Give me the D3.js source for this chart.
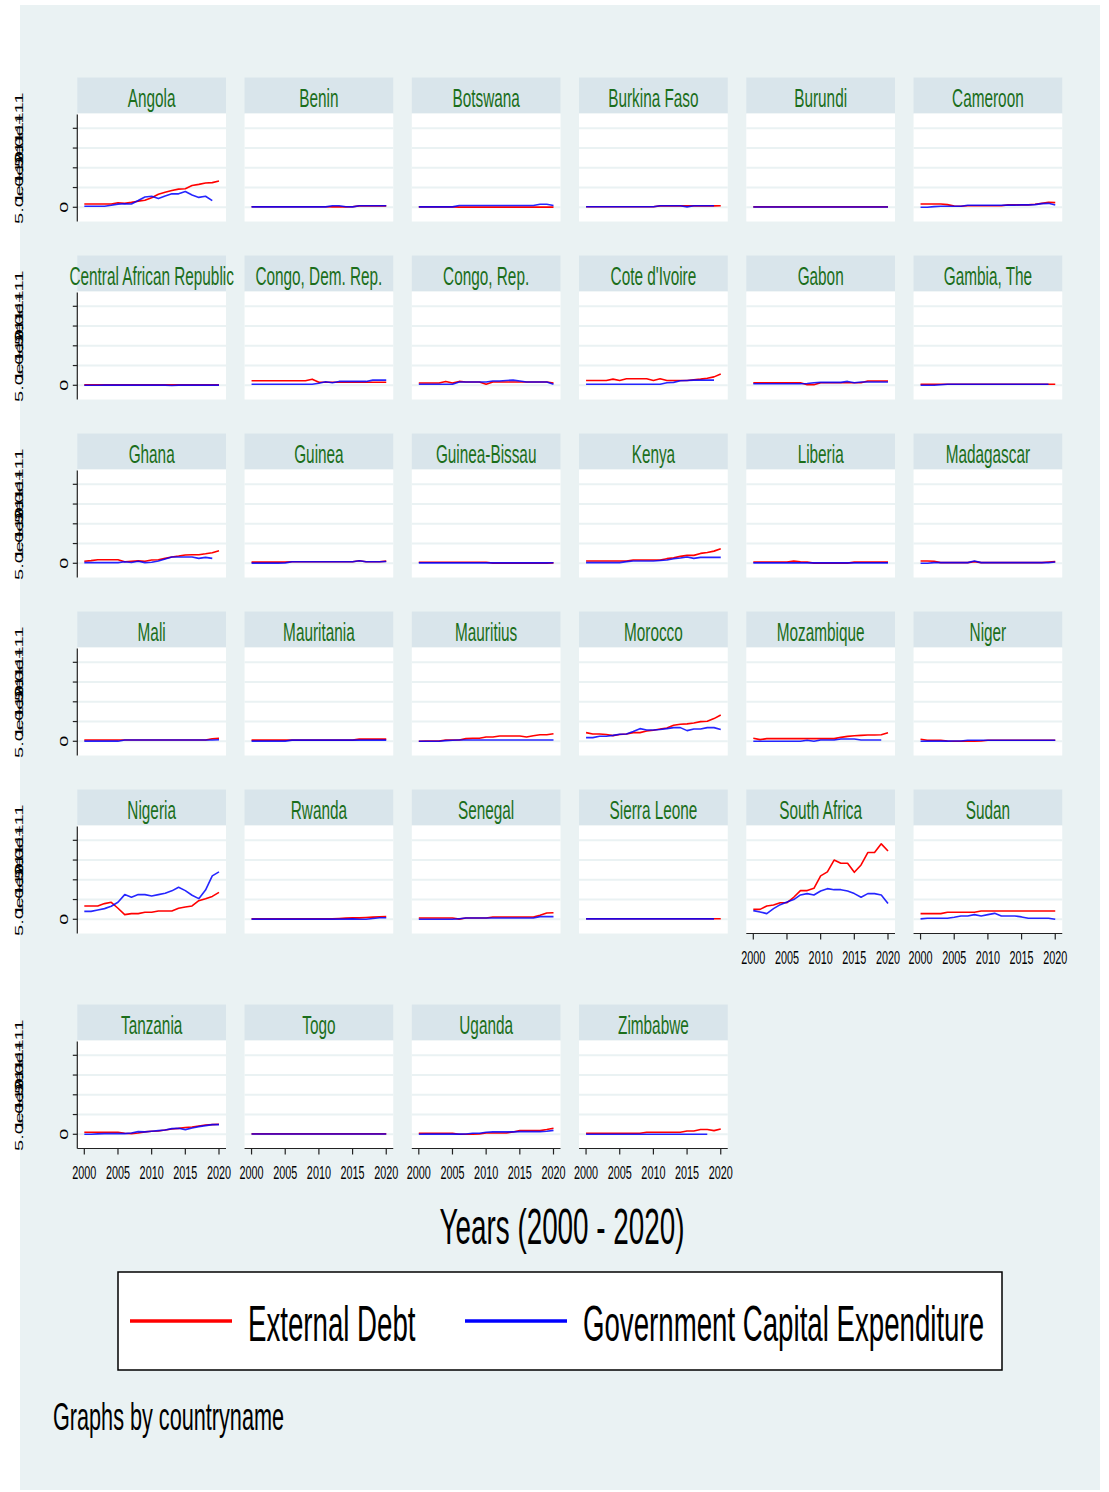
<!DOCTYPE html>
<html>
<head>
<meta charset="utf-8">
<script src="https://cdn.jsdelivr.net/npm/d3@7/dist/d3.min.js"></script>
<style>
  html, body { margin: 0; padding: 0; background: #ffffff; }
  svg { display: block; }
  text { font-family: "Liberation Sans", Arial, sans-serif; }
</style>
</head>
<body>
<svg id="chart" width="1109" height="1492"></svg>
<script>
// ---------------- DATA (values in US$ billions) ----------------
const years = [2000,2001,2002,2003,2004,2005,2006,2007,2008,2009,2010,2011,2012,2013,2014,2015,2016,2017,2018,2019,2020];

const countries = [
  "Angola","Benin","Botswana","Burkina Faso","Burundi","Cameroon",
  "Central African Republic","Congo, Dem. Rep.","Congo, Rep.","Cote d'Ivoire","Gabon","Gambia, The",
  "Ghana","Guinea","Guinea-Bissau","Kenya","Liberia","Madagascar",
  "Mali","Mauritania","Mauritius","Morocco","Mozambique","Niger",
  "Nigeria","Rwanda","Senegal","Sierra Leone","South Africa","Sudan",
  "Tanzania","Togo","Uganda","Zimbabwe"
];

// External Debt, one row per country (same order as countries)
const externalDebt = [
  [8.5,8.5,8.5,8.5,8.5,11.5,10,12.5,15.5,18,24,33,38,42.5,46,47,55,58,61.5,62.5,66.5],        // Angola
  [1.5,1.5,1.5,1.5,1.5,1.5,1.5,1.5,1.5,1.5,1.5,1.5,1,1.5,1,1.5,3.5,3.5,3.5,3.5,3.5],          // Benin
  [1,1,1,1,1,1,0.5,0.5,0.5,0.5,0.5,0.5,0.5,0.5,0.5,0.5,0.5,0.5,0.5,0.5,0.5],                  // Botswana
  [1.5,1.5,1.5,1.5,1.5,1.5,1.5,1.5,1.5,1.5,1.5,3.5,3.5,3.5,3.5,4,3.5,3.5,3.5,3.5,4],          // Burkina Faso
  [1,1,1,1,1,1,1,1,1,1,1,1,1,1,1,1,1,1,1,1,1],                                                 // Burundi
  [8.5,8.5,8.5,8.5,6.7,3.4,2.5,4,4,4,4,4,4,6,6,6,6,7.6,10,12.7,11.8],                          // Cameroon
  [1,1,1,1,1,1,1,1,1,1,1,1,1,1,1,1,1,1,1,1,1],                                                 // CAR
  [11.5,11.5,11.5,11.5,11.5,11.5,11.5,11.5,11.5,15.5,7.5,7.5,7.5,7.5,7.5,7.5,7.5,7.5,7.5,7.5,7.5], // Congo DR
  [5.7,5.7,5.7,5.7,9.8,5.7,9.8,8.2,8.2,8.2,2.5,8.2,8.2,8.2,8.2,8.2,8.2,8.2,8.2,8.2,5.7],       // Congo Rep
  [12.3,12.3,12.3,12.3,15.6,12.3,16.4,16.4,16.4,16.4,12.3,16.4,12.3,12.3,12.3,12.3,14,15.6,18,21.3,28.7], // Cote d'Ivoire
  [6.6,6.6,6.6,6.6,6.6,6.6,6.6,6.6,1.6,1.6,6.6,6.6,6.6,6.6,6.6,6.6,6.6,10.7,10.7,10.7,10.7],  // Gabon
  [2.5,2.5,2.5,2.5,2.5,2.5,2.5,2.5,2.5,2.5,2.5,2.5,2.5,2.5,2.5,2.5,2.5,2.5,2.5,2.5,2.5],      // Gambia
  [5,6.7,9,9,9,9,4,5,6,5,8.3,9,12.5,16,18.3,21,21.7,21.7,24,26.7,31.7],                        // Ghana
  [3,3,3,3,3,3,4,4,4,4,4,4,4,4,4,4,6.5,4,4,4,5.5],                                             // Guinea
  [2.5,2.5,2.5,2.5,2.5,2.5,2.5,2.5,2.5,2.5,2.5,0.3,0.3,0.3,0.3,0.3,0.3,0.3,0.3,0.3,1],         // Guinea-Bissau
  [5.8,5.8,5.8,5.8,5.8,5.8,5.8,8.3,8.3,8.3,8.3,8.3,11.7,14,17.5,20,20,25,27.5,30.8,36.7],     // Kenya
  [3.3,3.3,3.3,3.3,3.3,3.3,5.5,3.5,3,0.5,0.5,0.5,0.5,0.5,0.5,3,3,3,3,3,3],                     // Liberia
  [5.8,5.8,5,1.7,1.7,1.7,1.7,1.7,4.2,1.7,1.7,1.7,1.7,1.7,1.7,1.7,1.7,1.7,1.7,3.3,4.2],        // Madagascar
  [3.3,3.3,3.3,3.3,3.3,3.3,3.3,3.3,3.3,3.3,3.3,3.3,3.3,3.3,3.3,3.3,3.3,3.3,3.3,6.5,7.5],      // Mali
  [3,3,3,3,3,3,3,3,3,3,3,3,3,3,3,3,5.5,5.5,5.5,5.5,5.5],                                       // Mauritania
  [0,0.8,0.8,0.8,3.3,3.3,3.3,6.7,7.5,7.5,10.8,10.8,13.3,13.3,13.3,13.3,10.8,14,16.7,16.7,19.2], // Mauritius
  [22,18.6,18.6,17,14.3,17,18.6,22,22,26,28,31,33.8,40.5,43,44,46.4,49.8,50.6,57.4,66.7],      // Morocco
  [7.5,4.2,6.7,6.7,6.7,6.7,6.7,6.7,6.7,6.7,6.7,6.7,6.7,10,12.5,14.2,15,15.8,15.8,16.5,21.7],  // Mozambique
  [5,2.5,2.5,2.5,0.8,0,0,0,0,0.8,2.5,2.5,2.5,2.5,2.5,2.5,2.5,2.5,2.5,2.5,2.5],                 // Niger
  [33.8,33.8,33.8,39.7,43,28,11.8,14.3,14.3,17.7,17.7,21,21,21,28,31,33.8,47,52,58,68],        // Nigeria
  [1,1,1,1,1,1,1,1,1,1,1,1,1,2,3,3.5,3.5,4.5,5.5,6.5,7],                                       // Rwanda
  [3.3,3.3,3.3,3.3,3.3,3.3,0.5,3.3,3.3,3.3,3.3,5.8,5.8,5.8,5.8,5.8,5.8,5.8,10,15.8,16.7],     // Senegal
  [1.5,1.5,1.5,1.5,1.5,1.5,1.5,1.5,1.5,1.5,1.5,1.5,1.5,1.5,1.5,1.5,1.5,1.5,1.5,1.5,1.5],      // Sierra Leone
  [25,25,33.8,36,42,42,55.7,72.6,72.6,78.5,110,120,150,142,142,119,137.6,169,169,191,173],     // South Africa
  [14.3,14.3,14.3,14.3,17.7,17.7,17.7,17.7,17.7,21,21,21,21,21,21,21,21,21,21,21,21],         // Sudan
  [5,5,5,5,5,5,2.5,1.7,3.4,6,7.6,8.4,11,13.5,15,17,18.6,21,23.6,24.5,25.3],                    // Tanzania
  [1,1,1,1,1,1,1,1,1,1,1,1,1,1,1,1,1,1,1,1,1],                                                 // Togo
  [2.5,2.5,2.5,2.5,2.5,2.5,0,0,0,0.8,3.4,3.4,3.4,3.4,6,9.3,9.3,9.3,9.3,12,15.3],               // Uganda
  [2.5,2.5,2.5,2.5,2.5,2.5,2.5,2.5,2.5,5,5,5,5,5,5,8.5,8.5,12,12,9.3,13.5]                     // Zimbabwe
];

// Government Capital Expenditure, one row per country (null = no data)
const govCapitalExpenditure = [
  [2.5,2.5,2.5,2.5,5,8,9,8.5,17,26,28,22,28.5,34,34,40,31,25,28,17,null],                       // Angola
  [1,1,1,1,1,1,1,1,1,1,1,1,4,4,1.5,1,4,4,4,4,4],                                                // Benin
  [1,1,1,1,1,1,4.5,4.5,4.5,4.5,4.5,4.5,4.5,4.5,4.5,4.5,4.5,4.5,7.5,7.5,4.5],                    // Botswana
  [1.5,1.5,1.5,1.5,1.5,1.5,1.5,1.5,1.5,1.5,1.5,4,4,4,4,1,4,4,4,4,null],                         // Burkina Faso
  [0.8,0.8,0.8,0.8,0.8,0.8,0.8,0.8,0.8,0.8,0.8,0.8,0.8,0.8,0.8,0.8,0.8,0.8,0.8,0.8,0.8],       // Burundi
  [0,0,1.7,2.5,2.5,2.5,2.5,5,5,5,5,5,5,5.5,5.5,6,6,6.7,9.3,10,6],                               // Cameroon
  [0,0,0,0.5,0.5,0.5,0.5,0.5,0.5,0.5,0.5,0.5,0.5,-0.5,0.5,0.5,0.5,0.5,0.5,0.5,0.5],             // CAR
  [2.5,2.5,2.5,2.5,2.5,2.5,2.5,2.5,2.5,2.5,5,9,6.6,9.8,9.8,9.8,9.8,9.8,13,13,13],               // Congo DR
  [2.5,2.5,2.5,2.5,2.5,2.5,8.2,8.2,8.2,8.2,8.2,10.7,10.7,12.3,13,10.7,8.2,8.2,8.2,8.2,2.5],     // Congo Rep
  [2.5,2.5,2.5,2.5,2.5,2.5,2.5,2.5,2.5,2.5,2.5,2.5,6.6,7.4,11.5,12.3,13,13,13,13,null],         // Cote d'Ivoire
  [4,4,4,4,4,4,4,4,4.5,6.6,7.4,7.4,7.4,7.4,9.8,6.6,8.2,8.2,8.2,8.2,8.2],                        // Gabon
  [0,0,0,1.5,2.5,2.5,2.5,2.5,2.5,2.5,2.5,2.5,2.5,2.5,2.5,2.5,2.5,2.5,2.5,2.5,null],             // Gambia
  [1.7,1.7,1.7,1.7,1.7,1.7,4,2,5,1.7,2.5,5.8,10.8,16,16,16,16,12.5,15,12.5,null],               // Ghana
  [0.5,0.5,0.5,0.5,0.5,1,4,4,4,4,4,4,4,4,4,4,6.5,4,4,4,4.5],                                    // Guinea
  [1,1,1,1,1,1,1,1,1,1,1,1,1,1,1,1,1,1,1,1,1.5],                                                // Guinea-Bissau
  [1.7,1.7,1.7,1.7,1.7,1.7,4.2,5.8,5.8,5.8,5.8,7,8.3,11.7,13.3,15.8,12.5,15,15,15,15],          // Kenya
  [1,1,1,1,1,1,1,1,1,1,1,1,1,1,1,1,1,1,1,1,1],                                                  // Liberia
  [0,0,1.7,1.7,1.7,1.7,1.7,1.7,5.8,1.7,1.7,1.7,1.7,1.7,1.7,1.7,1.7,1.7,1.7,1.7,3.3],            // Madagascar
  [0.3,0.3,0.3,0.3,0.3,0.3,3.3,3.3,3.3,3.3,3.3,3.3,3.3,3.3,3.3,3.3,3.3,3.3,3.3,3.3,4],          // Mali
  [0.5,0.5,0.5,0.5,0.5,0.5,3,3,3,3,3,3,3,3,3,3,3,3,3,3,3],                                      // Mauritania
  [0,0,0,0,1.7,2.5,3.3,3.3,3.3,3.3,3.3,3.3,3.3,3.3,3.3,3.3,3.3,3.3,3.3,3.3,3.3],                // Mauritius
  [9.3,9.3,12.7,12.7,15,17.7,18.6,25,32,28.7,28.7,30,32,34.6,34.6,27,31,31,34.6,34.6,30],       // Morocco
  [0,0,0,0,0,0,0,0,2.5,0,3.3,3.3,3.3,5.8,5.8,5.8,3.3,3.3,3.3,3.3,null],                         // Mozambique
  [0,0.5,0.5,0.5,0.5,0.8,0.8,2.5,2.5,2.5,2.5,2.5,2.5,2.5,2.5,2.5,2.5,2.5,2.5,2.5,2.5],          // Niger
  [20,20,23.6,27,33,43,62.5,55.7,62.5,62.5,59,62.5,66,72,81,72.6,60.8,52.3,74,110,120],         // Nigeria
  [0.5,0.5,0.5,0.5,0.5,0.5,0.5,0.5,0.5,0.5,0.5,0.5,0.5,0.5,0.5,1,0,0,2,4,4],                    // Rwanda
  [0,0,0,0,0,0,1.5,3.3,3.3,3.3,3.3,3.3,3.3,3.3,3.3,3.3,3.3,3.3,6.7,6.7,6.7],                    // Senegal
  [1,1,1,1,1,1,1,1,1,1,1,1,1,1,1,1,1,1,1,1,null],                                               // Sierra Leone
  [22,18.6,14.3,27,37,44,50,61.6,65,61.6,71.7,77.6,75,75,71.7,65,55.7,65,65,61.6,39.7],         // South Africa
  [1,2.5,2.5,2.5,2.5,5,8.4,8.4,11.8,8.4,11.8,15,8.4,8.4,8.4,6,2.5,2.5,2.5,2.5,0],               // Sudan
  [0,0,1,1.7,1.7,1.7,1.7,3.4,6.7,6,7.6,9.3,11,14.3,15.2,11.8,16,19.4,22,24.5,24.5],             // Tanzania
  [0.8,0.8,0.8,0.8,0.8,0.8,0.8,0.8,0.8,0.8,0.8,0.8,0.8,0.8,0.8,0.8,0.8,0.8,0.8,0.8,0.8],       // Togo
  [0,0.5,0.5,0.5,0.5,0.5,0.5,0.8,2.5,2.5,5,6,6,6,6,6.8,6.8,6.8,6.8,7.6,10],                     // Uganda
  [0,0,0,0,0,0,0,0,0,0,0,0,0,0,0,0,0,0,0,null,null]                                             // Zimbabwe
];

const yTickValues = [0, 50, 100, 150, 200];
const yTickLabels = ["0", "5.0e+10", "1.0e+11", "1.5e+11", "2.0e+11"];
const xTickValues = [2000, 2005, 2010, 2015, 2020];
const seriesNames = ["External Debt", "Government Capital Expenditure"];
const seriesColors = ["#ff0000", "#0000ff"];

// ---------------- LAYOUT ----------------
const SQ = 0.57;               // horizontal text compression (matches reference rendering)
const nCols = 6;
const colX0 = 77.3, colStep = 167.25, panelW = 148.7;
const rowTop = [77.5, 255.5, 433.5, 611.5, 789.5, 1004.5];
const headerH = 36, plotH = 108;

const svg = d3.select("#chart");

svg.append("rect").attr("x", 20).attr("y", 5).attr("width", 1080).attr("height", 1485)
  .attr("fill", "#eaf2f3");

function sqText(parent, x, y, str, size, anchor, color, sq) {
  return parent.append("text")
    .attr("transform", `translate(${x},${y}) scale(${sq || SQ},1)`)
    .attr("text-anchor", anchor)
    .attr("font-size", size)
    .attr("fill", color || "#000")
    .text(str);
}

const x = d3.scaleLinear().domain([1998.96, 2021.04]).range([0, panelW]);
const y = d3.scaleLinear().domain([-36, 237.5]).range([plotH, 0]);

const nPerCol = [6, 6, 6, 6, 5, 5];  // panels in each column

countries.forEach((name, i) => {
  const col = i % nCols, row = Math.floor(i / nCols);
  const px = colX0 + col * colStep;
  const top = rowTop[row];
  const g = svg.append("g").attr("transform", `translate(${px},${top})`);

  // header
  g.append("rect").attr("x", 0).attr("y", 0).attr("width", panelW).attr("height", headerH)
    .attr("fill", "#d9e5eb");
  sqText(g, panelW / 2, 29, name, 26, "middle", "#1b6e1b", 0.59);

  // plot area
  const p = g.append("g").attr("transform", `translate(0,${headerH})`);
  p.append("rect").attr("width", panelW).attr("height", plotH).attr("fill", "#ffffff");

  p.selectAll("line.grid").data(yTickValues).enter().append("line")
    .attr("x1", 0).attr("x2", panelW)
    .attr("y1", d => y(d)).attr("y2", d => y(d))
    .attr("stroke", "#eaf2f3").attr("stroke-width", 2);

  const line = d3.line()
    .defined(d => d.v !== null)
    .x(d => x(d.year)).y(d => y(d.v));

  [externalDebt[i], govCapitalExpenditure[i]].forEach((vals, s) => {
    const pts = years.map((yr, k) => ({ year: yr, v: vals[k] }));
    p.append("path").datum(pts)
      .attr("d", line)
      .attr("fill", "none")
      .attr("stroke", seriesColors[s])
      .attr("stroke-opacity", s === 1 ? 0.85 : 1)
      .attr("stroke-width", 1.6)
      .attr("stroke-linejoin", "round");
  });

  // y axis on first column
  if (col === 0) {
    p.append("line").attr("x1", 0).attr("x2", 0).attr("y1", 1).attr("y2", plotH)
      .attr("stroke", "#222").attr("stroke-width", 1.2);
    yTickValues.forEach((t, k) => {
      p.append("line").attr("x1", -4.5).attr("x2", 0).attr("y1", y(t)).attr("y2", y(t))
        .attr("stroke", "#222").attr("stroke-width", 1.2);
      // Stata places the long (rotated) labels far from the axis, the short "0" close to it
      const off = t === 0 ? -9.3 : -54.3;
      p.append("text")
        .attr("transform", `translate(${off},${y(t)}) scale(${SQ},1) rotate(-90)`)
        .attr("text-anchor", "middle")
        .attr("font-size", 20)
        .attr("fill", "#000")
        .text(yTickLabels[k]);
    });
  }

  // x axis on last panel of each column
  if (row === nPerCol[col] - 1) {
    p.append("line").attr("x1", 0).attr("x2", panelW).attr("y1", plotH).attr("y2", plotH)
      .attr("stroke", "#222").attr("stroke-width", 1.2);
    xTickValues.forEach(t => {
      p.append("line").attr("x1", x(t)).attr("x2", x(t)).attr("y1", plotH).attr("y2", plotH + 6)
        .attr("stroke", "#222").attr("stroke-width", 1.2);
      sqText(p, x(t), plotH + 30, String(t), 19, "middle", "#000");
    });
  }
});

// axis title
sqText(svg, 562, 1244, "Years (2000 - 2020)", 50, "middle", "#000", 0.557);

// legend
const lg = svg.append("g");
lg.append("rect").attr("x", 118).attr("y", 1272).attr("width", 884).attr("height", 98)
  .attr("fill", "#ffffff").attr("stroke", "#000").attr("stroke-width", 1.5);
const legendItems = [
  { x1: 130, x2: 232, tx: 248 },
  { x1: 465, x2: 567, tx: 583 }
];
legendItems.forEach((it, s) => {
  lg.append("line").attr("x1", it.x1).attr("x2", it.x2).attr("y1", 1321).attr("y2", 1321)
    .attr("stroke", seriesColors[s]).attr("stroke-width", 3.5);
  sqText(lg, it.tx, 1341, seriesNames[s], 50, "start", "#000", 0.553);
});

// note
sqText(svg, 53, 1430, "Graphs by countryname", 38, "start", "#000");
</script>
</body>
</html>
